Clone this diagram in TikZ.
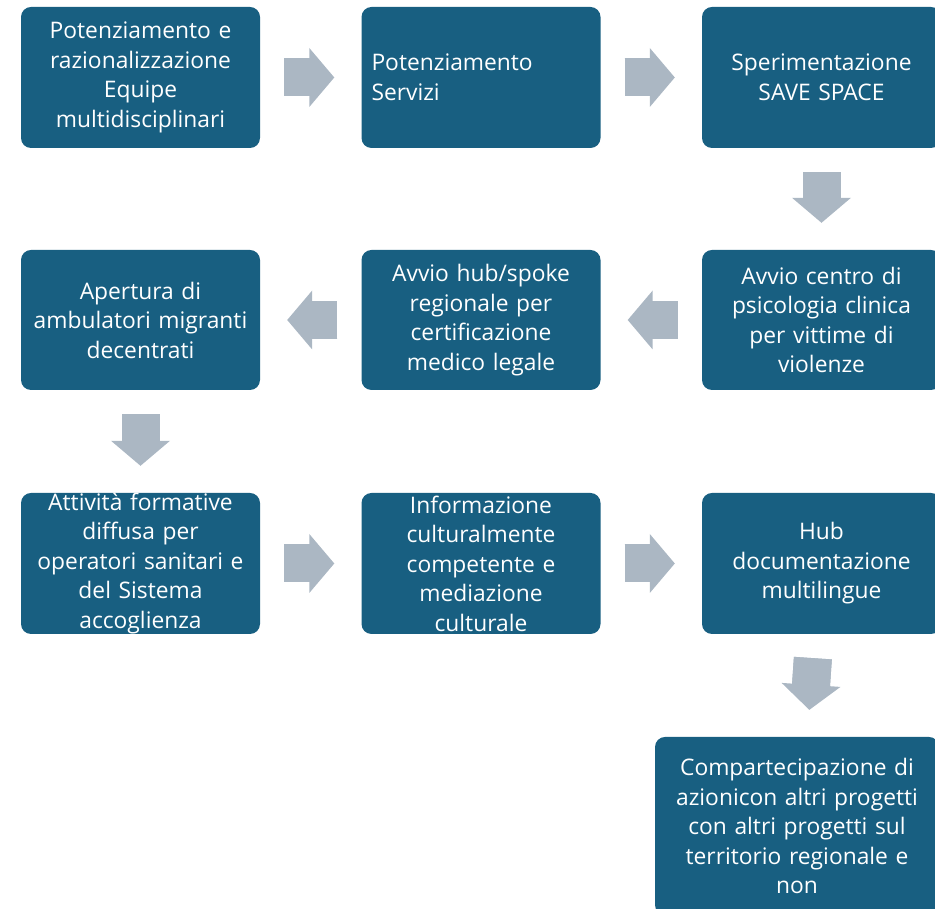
\documentclass[tikz,border=0pt]{standalone}
\usepackage{fontspec}
\setmainfont{Open Sans}
\usetikzlibrary{arrows.meta}

\definecolor{boxblue}{HTML}{185F81}
\definecolor{arrowgray}{HTML}{ABB7C3}

\tikzset{
  stepbox/.style={rectangle,rounded corners=10pt,fill=boxblue,text=white,
    minimum width=239pt,minimum height=141pt,inner xsep=10pt,inner ysep=0pt,
    text width=219pt,align=center,font=\fontsize{22.8}{29.5}\selectfont},
  flow/.style={draw=arrowgray,line width=38pt,
    -{Triangle[length=25pt,width=59pt,line width=0pt]},
    shorten <=24pt,shorten >=27pt,
    postaction={draw=arrowgray,-,shorten >=48pt}}
}

\begin{document}
\begin{tikzpicture}[x=1pt,y=1pt]
                    \clip (0,0) rectangle (935,909);
                    % Row 1
                    \node[stepbox] (S1) at (140.5,831.5) {Potenziamento e\\razionalizzazione\\Equipe\\multidisciplinari};
                    \node[stepbox,align=left] (S2) at (481,831.5) {Potenziamento\\Servizi};
                    \node[stepbox] (S3) at (821.5,831.5) {Sperimentazione\\SAVE SPACE};
                    % Row 2
                    \node[stepbox,minimum height=140pt] (S4) at (821.5,589) {Avvio centro di\\psicologia clinica\\per vittime di\\violenze};
                    \node[stepbox,minimum height=140pt] (S5) at (481,589) {Avvio hub/spoke\\regionale per\\certificazione\\medico legale};
                    \node[stepbox,minimum height=140pt] (S6) at (140.5,589) {Apertura di\\ambulatori migranti\\decentrati};
                    % Row 3
                    \node[stepbox] (S7) at (140.5,345.5) {Attività formative\\diffusa per\\operatori sanitari e\\del Sistema\\accoglienza};
                    \node[stepbox] (S8) at (481,345.5) {Informazione\\culturalmente\\competente e\\mediazione\\culturale};
                    \node[stepbox] (S9) at (821.5,345.5) {Hub\\documentazione\\multilingue};
                    % Last
                    \node[stepbox,minimum width=284pt,minimum height=178pt,text width=264pt] (S10) at (797,83) {Compartecipazione di\\azionicon altri progetti\\con altri progetti sul\\territorio regionale e\\non};
                    % Links
                    \draw [flow] (S1.east)--(S2.west);
                    \draw [flow] (S2.east)--(S3.west);
                    \draw [flow] (S3.south)--(S4.north);
                    \draw [flow] (S4.west)--(S5.east);
                    \draw [flow] (S5.west)--(S6.east);
                    \draw [flow] (S6.south)--(S7.north);
                    \draw [flow] (S7.east)--(S8.west);
                    \draw [flow] (S8.east)--(S9.west);
                    \draw [flow] ([xshift=-7pt]S9.south)--([xshift=-14pt]S9.south |- S10.north);
                \end{tikzpicture}
\end{document}
